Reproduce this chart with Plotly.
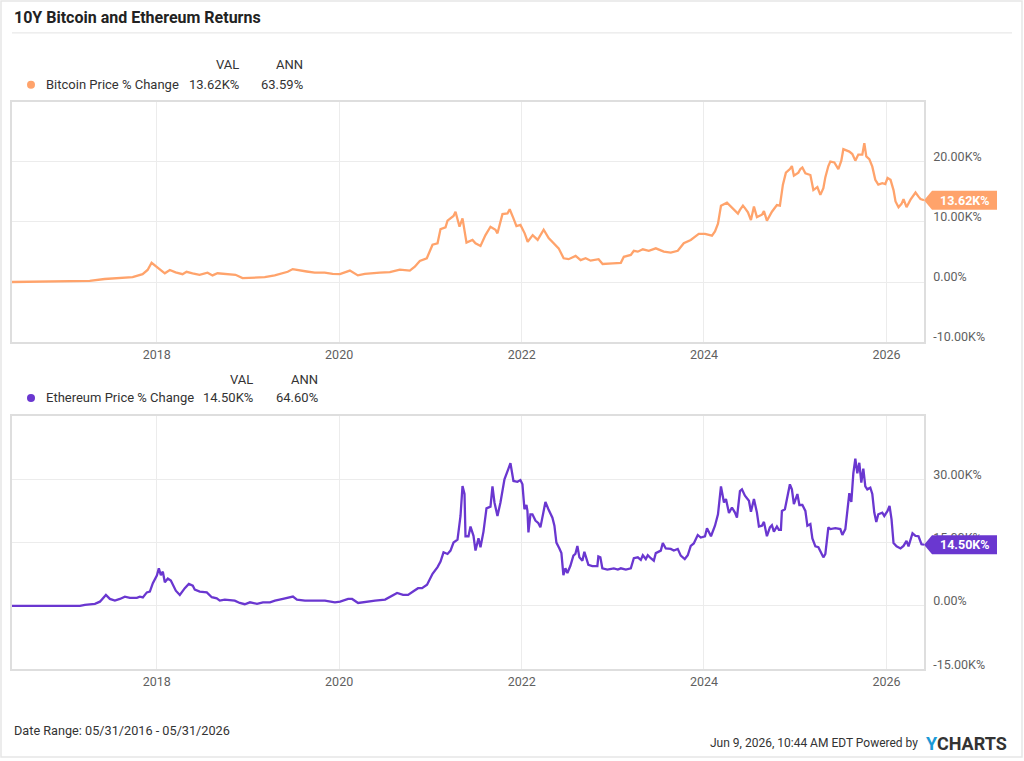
import plotly.graph_objects as go

# ---------------- data (values in thousands of percent, K%) ----------------
btc_dates = [
    "2016-05-31", "2016-09-19", "2017-01-01", "2017-04-07", "2017-06-06", "2017-08-05",
    "2017-09-26", "2017-11-05", "2017-11-25", "2017-12-11", "2018-01-01", "2018-01-13",
    "2018-02-02", "2018-02-22", "2018-03-17", "2018-04-14", "2018-04-30", "2018-05-24",
    "2018-06-21", "2018-07-23", "2018-08-12", "2018-09-01", "2018-10-11", "2018-11-12",
    "2018-12-10", "2019-01-01", "2019-01-29", "2019-03-09", "2019-04-18", "2019-05-20",
    "2019-06-09", "2019-06-29", "2019-07-27", "2019-08-24", "2019-09-25", "2019-11-04",
    "2019-12-06", "2020-01-04", "2020-02-13", "2020-03-16", "2020-04-13", "2020-05-03",
    "2020-06-12", "2020-07-22", "2020-08-31", "2020-10-10", "2020-10-30", "2020-11-19",
    "2020-12-17", "2021-01-09", "2021-01-29", "2021-02-10", "2021-03-02", "2021-03-10",
    "2021-03-22", "2021-04-03", "2021-04-11", "2021-04-27", "2021-05-09", "2021-05-25",
    "2021-06-18", "2021-06-30", "2021-07-20", "2021-08-09", "2021-08-29", "2021-09-18",
    "2021-09-26", "2021-10-16", "2021-11-05", "2021-11-14", "2021-11-29", "2021-12-11",
    "2021-12-27", "2022-01-13", "2022-01-25", "2022-02-14", "2022-03-06", "2022-03-30",
    "2022-04-19", "2022-05-09", "2022-05-29", "2022-06-18", "2022-07-08", "2022-08-05",
    "2022-08-25", "2022-09-14", "2022-10-04", "2022-11-05", "2022-11-21", "2023-01-01",
    "2023-02-02", "2023-02-14", "2023-03-14", "2023-03-26", "2023-04-11", "2023-05-01",
    "2023-05-25", "2023-06-22", "2023-07-24", "2023-08-21", "2023-09-18", "2023-10-12",
    "2023-11-09", "2023-12-11", "2024-01-05", "2024-02-02", "2024-02-14", "2024-02-26",
    "2024-03-09", "2024-04-02", "2024-04-14", "2024-05-04", "2024-05-16", "2024-05-24",
    "2024-06-05", "2024-06-13", "2024-06-25", "2024-07-07", "2024-07-19", "2024-07-31",
    "2024-08-20", "2024-08-28", "2024-09-09", "2024-09-29", "2024-10-19", "2024-10-31",
    "2024-11-12", "2024-11-24", "2024-12-10", "2024-12-18", "2024-12-26", "2025-01-13",
    "2025-01-21", "2025-01-29", "2025-02-10", "2025-03-02", "2025-03-14", "2025-03-30",
    "2025-04-11", "2025-04-23", "2025-05-01", "2025-05-13", "2025-05-21", "2025-06-06",
    "2025-06-22", "2025-07-04", "2025-07-12", "2025-07-24", "2025-08-05", "2025-08-17",
    "2025-08-29", "2025-09-10", "2025-09-26", "2025-10-04", "2025-10-12", "2025-10-24",
    "2025-11-05", "2025-11-17", "2025-11-29", "2025-12-15", "2025-12-27", "2026-01-05",
    "2026-01-17", "2026-01-29", "2026-02-06", "2026-02-18", "2026-03-02", "2026-03-10",
    "2026-03-22", "2026-04-07", "2026-04-27", "2026-05-09", "2026-05-17", "2026-05-31",
]
btc_vals = [
    0.0, 0.05, 0.1, 0.2, 0.5, 0.7,
    0.8, 1.3, 2.0, 3.2, 2.5, 2.2,
    1.45, 2.0, 1.6, 1.3, 1.7, 1.45,
    1.2, 1.55, 1.1, 1.45, 1.3, 1.2,
    0.65, 0.7, 0.7, 0.8, 1.1, 1.55,
    1.7, 2.15, 1.9, 1.75, 1.55, 1.55,
    1.35, 1.3, 1.9, 1.1, 1.35, 1.45,
    1.55, 1.65, 2.05, 1.9, 2.55, 3.5,
    3.95, 6.2, 6.45, 8.8, 9.1, 10.2,
    10.6, 11.0, 11.7, 9.2, 10.6, 6.55,
    7.0, 6.45, 6.0, 7.8, 9.2, 8.7,
    8.1, 11.3, 11.4, 12.1, 10.6, 9.3,
    9.5, 8.1, 6.7, 7.8, 7.0, 8.7,
    7.3, 6.45, 5.6, 3.95, 3.8, 4.35,
    3.65, 3.95, 3.55, 3.8, 3.0, 3.1,
    3.2, 4.2, 4.5, 5.2, 5.05, 5.45,
    5.2, 5.6, 5.05, 4.9, 5.2, 6.45,
    7.0, 8.0, 8.0, 7.7, 8.4, 9.7,
    12.7, 13.2, 12.7, 12.0, 11.4, 12.0,
    12.7, 12.3, 11.6, 10.3, 12.55, 10.8,
    11.2, 11.8, 10.2, 11.7, 12.8, 12.7,
    16.2, 18.2, 18.8, 19.3, 17.7, 18.2,
    18.8, 19.05, 18.1, 17.8, 15.3, 15.8,
    14.5, 15.6, 17.45, 19.3, 20.05, 19.9,
    18.8, 20.2, 22.1, 21.9, 21.7, 21.3,
    20.2, 21.2, 21.2, 23.1, 20.9, 20.45,
    19.2, 17.0, 16.2, 16.45, 16.3, 17.3,
    17.0, 15.3, 13.4, 12.45, 13.0, 13.8,
    12.45, 13.7, 14.9, 14.2, 13.8, 13.62,
]

eth_dates = [
    "2016-05-31", "2016-10-29", "2017-02-27", "2017-03-19", "2017-04-28", "2017-05-18",
    "2017-06-11", "2017-06-27", "2017-07-17", "2017-08-06", "2017-08-26", "2017-09-15",
    "2017-10-13", "2017-10-25", "2017-11-06", "2017-11-22", "2017-12-04", "2017-12-16",
    "2018-01-01", "2018-01-09", "2018-01-17", "2018-01-25", "2018-02-02", "2018-02-14",
    "2018-02-26", "2018-03-18", "2018-04-03", "2018-04-23", "2018-05-09", "2018-05-25",
    "2018-06-02", "2018-06-22", "2018-07-20", "2018-08-09", "2018-08-29", "2018-09-10",
    "2018-09-30", "2018-11-09", "2018-11-29", "2018-12-19", "2019-01-09", "2019-02-06",
    "2019-03-02", "2019-03-30", "2019-04-19", "2019-05-21", "2019-06-10", "2019-06-30",
    "2019-07-16", "2019-08-17", "2019-09-26", "2019-11-05", "2019-12-15", "2020-01-05",
    "2020-02-06", "2020-02-22", "2020-03-17", "2020-04-14", "2020-05-24", "2020-07-03",
    "2020-08-04", "2020-08-20", "2020-09-13", "2020-10-03", "2020-10-23", "2020-11-12",
    "2020-11-28", "2020-12-18", "2021-01-09", "2021-01-29", "2021-02-10", "2021-02-22",
    "2021-03-10", "2021-03-22", "2021-04-03", "2021-04-19", "2021-05-01", "2021-05-09",
    "2021-05-17", "2021-05-21", "2021-06-02", "2021-06-10", "2021-06-22", "2021-06-30",
    "2021-07-12", "2021-07-20", "2021-08-01", "2021-08-13", "2021-08-29", "2021-09-06",
    "2021-09-14", "2021-09-26", "2021-10-08", "2021-10-24", "2021-11-09", "2021-11-17",
    "2021-11-29", "2021-12-15", "2021-12-27", "2022-01-04", "2022-01-12", "2022-01-20",
    "2022-01-24", "2022-01-28", "2022-02-05", "2022-02-13", "2022-02-25", "2022-03-09",
    "2022-03-17", "2022-03-25", "2022-04-06", "2022-04-18", "2022-05-04", "2022-05-12",
    "2022-05-20", "2022-06-01", "2022-06-09", "2022-06-17", "2022-06-25", "2022-07-03",
    "2022-07-15", "2022-07-27", "2022-08-04", "2022-08-12", "2022-08-20", "2022-09-01",
    "2022-09-09", "2022-09-25", "2022-10-11", "2022-10-31", "2022-11-04", "2022-11-12",
    "2022-11-20", "2022-12-10", "2023-01-05", "2023-01-21", "2023-02-02", "2023-02-22",
    "2023-03-14", "2023-03-26", "2023-04-11", "2023-04-23", "2023-05-01", "2023-05-13",
    "2023-05-21", "2023-06-02", "2023-06-14", "2023-06-22", "2023-07-12", "2023-07-20",
    "2023-08-01", "2023-08-21", "2023-09-02", "2023-09-18", "2023-09-30", "2023-10-16",
    "2023-10-28", "2023-11-09", "2023-11-21", "2023-12-07", "2023-12-19", "2024-01-05",
    "2024-01-13", "2024-01-29", "2024-02-14", "2024-02-26", "2024-03-09", "2024-03-21",
    "2024-03-29", "2024-04-10", "2024-04-22", "2024-05-04", "2024-05-12", "2024-05-24",
    "2024-06-01", "2024-06-13", "2024-06-29", "2024-07-07", "2024-07-19", "2024-07-31",
    "2024-08-08", "2024-08-20", "2024-08-28", "2024-09-09", "2024-09-21", "2024-09-29",
    "2024-10-07", "2024-10-19", "2024-10-27", "2024-11-04", "2024-11-08", "2024-11-20",
    "2024-12-02", "2024-12-10", "2024-12-18", "2024-12-26", "2025-01-09", "2025-01-17",
    "2025-01-29", "2025-02-10", "2025-02-18", "2025-03-02", "2025-03-10", "2025-03-22",
    "2025-04-03", "2025-04-15", "2025-04-23", "2025-05-01", "2025-05-13", "2025-05-21",
    "2025-06-10", "2025-06-30", "2025-07-08", "2025-07-20", "2025-07-28", "2025-08-05",
    "2025-08-13", "2025-08-21", "2025-08-29", "2025-09-06", "2025-09-14", "2025-09-22",
    "2025-09-30", "2025-10-08", "2025-10-16", "2025-10-28", "2025-11-05", "2025-11-13",
    "2025-11-21", "2025-11-29", "2025-12-15", "2025-12-23", "2026-01-05", "2026-01-13",
    "2026-01-21", "2026-01-29", "2026-02-10", "2026-02-26", "2026-03-10", "2026-03-22",
    "2026-03-30", "2026-04-15", "2026-04-27", "2026-05-09", "2026-05-21", "2026-05-31",
]
eth_vals = [
    0.0, 0.0, 0.0, 0.25, 0.5, 1.0,
    2.6, 1.65, 1.25, 1.65, 2.2, 1.9,
    1.9, 2.2, 2.0, 3.2, 3.4, 5.4,
    7.2, 8.9, 7.3, 8.1, 5.6, 6.5,
    6.0, 3.6, 2.6, 4.2, 5.2, 4.8,
    3.85, 3.4, 3.2, 2.05, 1.8, 1.25,
    1.5, 1.25, 0.7, 0.4, 0.85, 0.5,
    0.85, 0.85, 1.25, 1.65, 1.9, 2.2,
    1.5, 1.25, 1.25, 1.25, 0.85, 1.0,
    1.65, 1.65, 0.7, 1.0, 1.25, 1.5,
    2.45, 3.05, 2.6, 2.6, 3.4, 4.2,
    4.2, 5.0, 7.6, 9.2, 10.5, 12.7,
    12.3, 13.1, 15.0, 15.7, 21.3, 28.4,
    26.5, 16.5, 16.5, 18.8, 16.6, 13.1,
    16.0, 13.9, 17.6, 23.1, 23.5, 28.3,
    24.5, 21.3, 24.5, 30.0, 32.5, 33.8,
    29.6, 29.4, 29.8, 28.8, 22.9, 23.9,
    22.5, 17.4, 21.7, 21.7, 20.2, 19.6,
    18.6, 21.2, 24.6, 22.9, 20.9, 19.0,
    15.0, 13.6, 12.5, 7.3, 8.9, 7.8,
    9.5, 11.9, 12.3, 14.2, 11.5, 10.7,
    12.8, 9.7, 9.4, 9.4, 11.7, 11.5,
    8.9, 8.6, 8.9, 8.6, 8.9, 8.6,
    8.9, 11.3, 11.5, 10.9, 12.0, 11.1,
    12.0, 11.3, 10.7, 12.5, 13.1, 14.9,
    13.6, 13.5, 13.1, 13.5, 11.9, 11.1,
    12.0, 14.2, 14.8, 16.8, 16.2, 16.5,
    18.4, 16.5, 19.0, 21.7, 28.3, 24.5,
    25.3, 22.0, 23.3, 22.1, 20.9, 27.2,
    27.6, 26.1, 24.9, 22.3, 25.3, 22.1,
    18.8, 19.0, 19.9, 16.5, 18.6, 19.1,
    17.6, 18.8, 18.0, 18.0, 22.5, 22.9,
    26.9, 28.8, 27.6, 24.1, 26.5, 23.9,
    23.9, 22.5, 19.0, 19.4, 16.0, 14.1,
    13.9, 12.5, 11.5, 12.3, 18.6, 18.2,
    18.4, 18.2, 16.8, 18.2, 22.9, 26.7,
    24.6, 31.4, 34.9, 31.4, 33.9, 29.2,
    32.5, 28.3, 27.6, 28.0, 26.5, 22.1,
    19.9, 21.7, 22.1, 21.3, 22.5, 23.7,
    20.5, 14.9, 14.1, 13.6, 14.2, 15.4,
    14.1, 17.2, 16.6, 16.5, 14.6, 14.5,
]

btc_name = "Bitcoin Price % Change"
eth_name = "Ethereum Price % Change"
btc_val_txt, btc_ann_txt = "13.62K%", "63.59%"
eth_val_txt, eth_ann_txt = "14.50K%", "64.60%"
btc_last_label = "13.62K%"
eth_last_label = "14.50K%"

btc_ticks = [-10, 0, 10, 20]
btc_ticktext = ["-10.00K%", "0.00%", "10.00K%", "20.00K%"]
eth_ticks = [-15, 0, 15, 30]
eth_ticktext = ["-15.00K%", "0.00%", "15.00K%", "30.00K%"]
x_ticks = ["2018-01-01", "2020-01-01", "2022-01-01", "2024-01-01", "2026-01-01"]
x_ticktext = ["2018", "2020", "2022", "2024", "2026"]

title = "10Y Bitcoin and Ethereum Returns"
date_range = "Date Range: 05/31/2016 - 05/31/2026"
stamp = "Jun 9, 2026, 10:44 AM EDT Powered by"

# ---------------- styling ----------------
W, H = 1024, 761
BTC_C = "#ffa36b"
ETH_C = "#6a37d0"
GRID = "#ececec"
BORDER = "#dedede"
TXT = "#333333"
TICK = "#5f5f5f"
FONT = "Roboto"

def px(x):
    return x / W

def py(y):
    return 1 - y / H

fig = go.Figure()
fig.add_trace(go.Scatter(x=btc_dates, y=btc_vals, mode="lines", name=btc_name,
                         line=dict(color=BTC_C, width=2.3), xaxis="x", yaxis="y"))
fig.add_trace(go.Scatter(x=eth_dates, y=eth_vals, mode="lines", name=eth_name,
                         line=dict(color=ETH_C, width=2.3), xaxis="x2", yaxis="y2"))

xdom = [px(12), px(924)]
xcommon = dict(type="date", range=["2016-05-31", "2026-05-31"], domain=xdom,
               tickvals=x_ticks, ticktext=x_ticktext, showgrid=True, gridcolor=GRID,
               gridwidth=1, showline=True, linecolor=BORDER, linewidth=1.5, mirror=True,
               zeroline=False, ticks="", tickfont=dict(family=FONT, size=12.5, color=TICK),
               fixedrange=True)
ycommon = dict(side="right", showgrid=True, gridcolor=GRID, gridwidth=1, showline=True,
               linecolor=BORDER, linewidth=1.5, mirror=True, zeroline=False, ticks="",
               tickfont=dict(family=FONT, size=12.5, color=TICK), ticklabelstandoff=5,
               ticklabelshift=-5, fixedrange=True)

fig.update_layout(
    width=W, height=H, margin=dict(l=0, r=0, t=0, b=0),
    paper_bgcolor="white", plot_bgcolor="white", showlegend=False,
    font=dict(family=FONT, color=TXT),
    xaxis=dict(**xcommon, anchor="y"),
    yaxis=dict(**ycommon, anchor="x", domain=[py(343), py(102)], range=[-10, 30],
               tickvals=btc_ticks, ticktext=btc_ticktext),
    xaxis2=dict(**xcommon, anchor="y2"),
    yaxis2=dict(**ycommon, anchor="x2", domain=[py(671), py(417)], range=[-15, 45],
                tickvals=eth_ticks, ticktext=eth_ticktext),
)

shapes = []
annos = []
# outer frame and title rule
shapes.append(dict(type="rect", xref="paper", yref="paper", x0=px(1), x1=px(1022),
                   y0=py(759), y1=py(1), line=dict(color="#e6e6e6", width=1.5)))
shapes.append(dict(type="line", xref="paper", yref="paper", x0=px(12), x1=px(1012),
                   y0=py(33), y1=py(33), line=dict(color="#e3e3e3", width=1)))

annos.append(dict(text="<b>" + title + "</b>", xref="paper", yref="paper", x=px(12), y=py(18),
                  xanchor="left", yanchor="middle", showarrow=False,
                  font=dict(family=FONT, size=16, color="#222222")))

LEG = 13

def legend_block(y_head, y_row, name, color, val, ann, x_val, x_ann):
    annos.append(dict(text="VAL", xref="paper", yref="paper", x=px(x_val), y=py(y_head),
                      xanchor="right", yanchor="middle", showarrow=False,
                      font=dict(family=FONT, size=LEG, color=TXT)))
    annos.append(dict(text="ANN", xref="paper", yref="paper", x=px(x_ann), y=py(y_head),
                      xanchor="right", yanchor="middle", showarrow=False,
                      font=dict(family=FONT, size=LEG, color=TXT)))
    shapes.append(dict(type="circle", xref="paper", yref="paper", xsizemode="pixel",
                       ysizemode="pixel", xanchor=px(31), yanchor=py(y_row),
                       x0=-4, x1=4, y0=-4, y1=4, fillcolor=color, line=dict(width=0)))
    annos.append(dict(text=name, xref="paper", yref="paper", x=px(44), y=py(y_row),
                      xanchor="left", yanchor="middle", showarrow=False,
                      font=dict(family=FONT, size=LEG, color=TXT)))
    annos.append(dict(text=val, xref="paper", yref="paper", x=px(x_val), y=py(y_row),
                      xanchor="right", yanchor="middle", showarrow=False,
                      font=dict(family=FONT, size=LEG, color=TXT)))
    annos.append(dict(text=ann, xref="paper", yref="paper", x=px(x_ann), y=py(y_row),
                      xanchor="right", yanchor="middle", showarrow=False,
                      font=dict(family=FONT, size=LEG, color=TXT)))

legend_block(65, 85, btc_name, BTC_C, btc_val_txt, btc_ann_txt, 241, 305)
legend_block(380, 399, eth_name, ETH_C, eth_val_txt, eth_ann_txt, 255, 320)

def end_tag(yref, yval, color, label):
    shapes.append(dict(type="path", xref="paper", yref=yref, xsizemode="pixel",
                       ysizemode="pixel", xanchor=px(924), yanchor=yval,
                       path="M 0 0 L 8 -9.5 L 73 -9.5 L 73 9.5 L 8 9.5 Z",
                       fillcolor=color, line=dict(width=0), layer="above"))
    annos.append(dict(text="<b>" + label + "</b>", xref="paper", yref=yref, x=px(964.5),
                      y=yval, xanchor="center", yanchor="middle", showarrow=False,
                      font=dict(family=FONT, size=12.5, color="white")))

end_tag("y", btc_vals[-1], BTC_C, btc_last_label)
end_tag("y2", eth_vals[-1], ETH_C, eth_last_label)

# footer
annos.append(dict(text=date_range, xref="paper", yref="paper", x=px(12), y=py(732),
                  xanchor="left", yanchor="middle", showarrow=False,
                  font=dict(family=FONT, size=12.7, color=TXT)))
annos.append(dict(text=stamp, xref="paper", yref="paper", x=px(920), y=py(745),
                  xanchor="right", yanchor="middle", showarrow=False,
                  font=dict(family=FONT, size=12, color=TXT)))
annos.append(dict(text="<b><span style='color:#1a9ad6'>Y</span>CHARTS</b>", xref="paper",
                  yref="paper", x=px(924), y=py(745), xanchor="left", yanchor="middle",
                  showarrow=False, font=dict(family=FONT, size=18, color="#333333")))

fig.update_layout(shapes=shapes, annotations=annos)

page_fix = (
    "document.documentElement.style.margin='0';"
    "document.documentElement.style.padding='0';"
    "document.documentElement.style.overflow='hidden';"
    "document.documentElement.style.height='761px';"
    "document.body.style.margin='0';"
    "document.body.style.padding='0';"
    "document.body.style.overflow='hidden';"
    "document.body.style.height='761px';"
)
fig.write_html("out.html", post_script=page_fix)
